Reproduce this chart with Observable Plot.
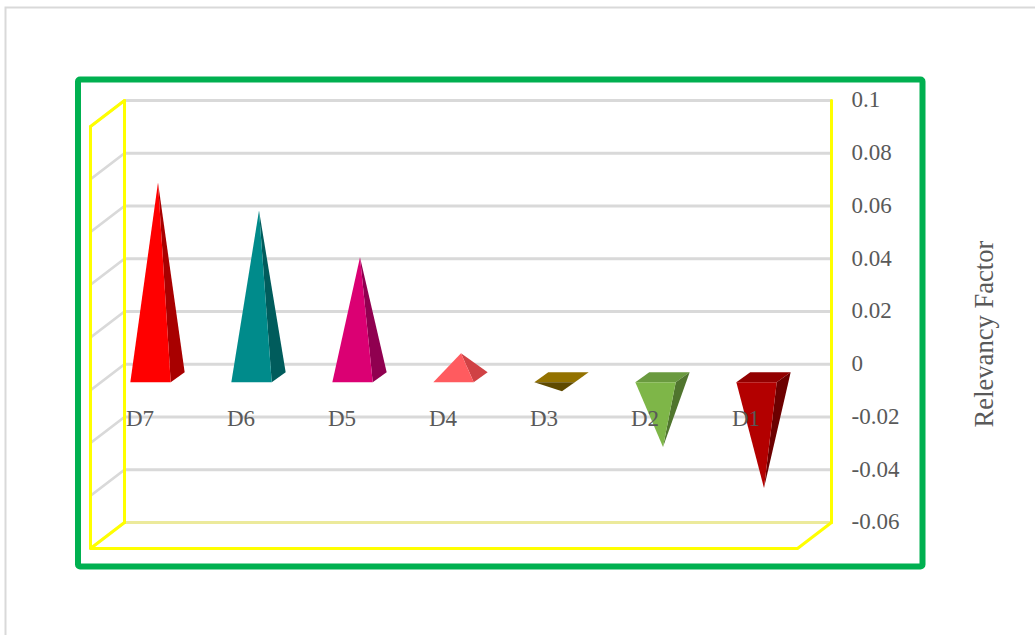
<!DOCTYPE html>
<html><head><meta charset="utf-8">
<script src="https://cdn.jsdelivr.net/npm/d3@7"></script>
<script src="https://cdn.jsdelivr.net/npm/@observablehq/plot@0.6"></script>
<style>html,body{margin:0;padding:0;background:#fff}svg{display:block}</style>
</head><body>
<div id="chart"></div>
<script>
const categories = ["D7","D6","D5","D4","D3","D2","D1"];
const values = [0.0738,0.0632,0.0455,0.0091,-0.0053,-0.0264,-0.0420];
const frontColors = ["#FF0000","#008B8B","#DB0073","#FF5B5F","#5F4A00","#7EB648","#B30000"];
const sideColors  = ["#A80000","#005C5C","#900050","#D04245","#3E3000","#50752E","#6C0000"];
const capColors   = ["#FF0000","#008B8B","#DB0073","#FF5B5F","#937200","#6A9A3F","#920000"];
const yTicks = [0.1,0.08,0.06,0.04,0.02,0,-0.02,-0.04,-0.06];
const yMin = -0.06, yMax = 0.1;

// oblique depth: one unit of depth moves this far in data units
const depthX = 34/101, depthY = 26/2637.5;
const P = (X, d, v) => ({x: X + d*depthX, y: v + d*depthY});

const nCat = categories.length;
const gridLines = yTicks.flatMap((t) => [
  {...P(0,0,t), id:"g"+t},
  {...P(0,1,t), id:"g"+t},
  {...P(nCat,1,t), id:"g"+t}
]);
const wallLines = [
  [[0,0,yMax],[0,1,yMax]],
  [[0,0,yMin],[0,0,yMax]],
  [[0,1,yMin],[0,1,yMax]],
  [[nCat,1,yMin],[nCat,1,yMax]],
  [[0,1,yMin],[0,0,yMin],[nCat,0,yMin],[nCat,1,yMin]]
].flatMap((pts,i) => pts.map((p) => ({...P(...p), id:i})));
const floorBack = [P(0,1,yMin), P(nCat,1,yMin)];

const halfW = 0.2, d0 = 0.31, d1 = 0.69, dc = 0.5, frontShift = 0.01;
const faces = categories.flatMap((c,i) => {
  const v = values[i], xc = i + 0.5;
  const fl = P(xc-halfW-frontShift,d0,0), fr = P(xc+halfW-frontShift,d0,0),
        br = P(xc+halfW,d1,0), bl = P(xc-halfW,d1,0), apex = P(xc,dc,v);
  const poly = (name, pts, color) => pts.map((p) => ({...p, id:c+name, color}));
  const out = [];
  if (v < 0) out.push(...poly("cap",[fl,fr,br,bl],capColors[i]));
  out.push(...poly("side",[fr,br,apex],sideColors[i]));
  out.push(...poly("front",[fl,fr,apex],frontColors[i]));
  return out;
});

const labelStyle = {fontFamily:"Liberation Serif", fontSize:23, fill:"#595959"};
const plot = Plot.plot({
  width:1035, height:635,
  marginLeft:0, marginRight:0, marginTop:0, marginBottom:0,
  style:{background:"#fff", overflow:"hidden"},
  x:{type:"linear", domain:[0, nCat+depthX], range:[90,831], axis:null},
  y:{type:"linear", domain:[yMin, yMax+depthY], range:[548,100], axis:null},
  color:{type:"identity"},
  marks:[
    Plot.frame({stroke:"#D9D9D9", strokeWidth:2, insetLeft:5, insetTop:7, insetRight:-10, insetBottom:-10}),
    Plot.frame({stroke:"#00B050", strokeWidth:6, rx:2, insetLeft:77.5, insetTop:79, insetRight:113, insetBottom:69}),
    Plot.line(gridLines, {x:"x", y:"y", z:"id", stroke:"#D9D9D9", strokeWidth:2.8}),
    Plot.line(floorBack, {x:"x", y:"y", stroke:"#ECEA9B", strokeWidth:2.8}),
    Plot.line(wallLines, {x:"x", y:"y", z:"id", stroke:"#FFFF00", strokeWidth:3, strokeLinejoin:"miter"}),
    Plot.line(faces, {x:"x", y:"y", z:"id", fill:"color", stroke:"none"}),
    Plot.text(categories, {x:(c,i)=>i, y:()=>0, text:(c)=>c, textAnchor:"start", dx:35.5, dy:28.5, ...labelStyle}),
    Plot.text(yTicks, {x:()=>nCat+depthX, y:(t)=>t+depthY, text:(t)=>String(t), textAnchor:"start", dx:20, dy:-0.5, ...labelStyle}),
    Plot.text(["Relevancy Factor"], {frameAnchor:"left", dx:984, dy:16, rotate:-90, text:(d)=>d, textAnchor:"middle", ...labelStyle, fontSize:26.6})
  ]
});
document.getElementById("chart").appendChild(plot);
</script>
</body></html>
